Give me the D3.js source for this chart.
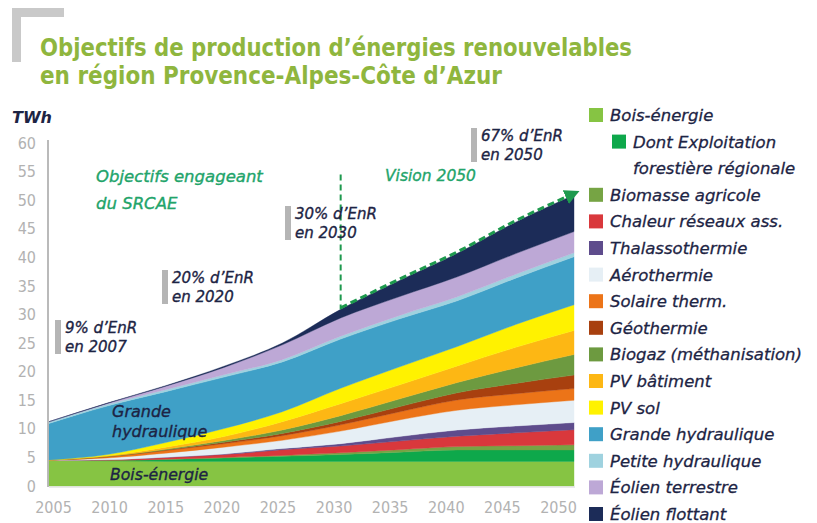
<!DOCTYPE html>
<html>
<head>
<meta charset="utf-8">
<script src="https://cdn.jsdelivr.net/npm/d3@7"></script>
<style>
  body { margin: 0; background: #fff; }
  svg { display: block; }
</style>
</head>
<body>
<svg id="chart" width="817" height="523"></svg>
<script>
// Renewable energy production targets, TWh per year (stacked, bottom to top)
const years = [2005, 2010, 2015, 2020, 2025, 2030, 2035, 2040, 2045, 2050];

const boisEnergie        = [4.5, 4.4, 4.3, 4.3, 4.3, 4.3, 4.3, 4.3, 4.3, 4.3];
const exploitForestiere  = [0,   0.1, 0.35, 0.6, 0.9, 1.2, 1.6, 2.0, 2.0, 2.0];
const biomasseAgricole   = [0,   0,   0.05, 0.1, 0.15, 0.3, 0.45, 0.6, 0.75, 0.9];
const chaleurReseaux     = [0,   0.1, 0.3, 0.5, 1.0, 1.2, 1.5, 1.8, 2.25, 2.65];
const thalassothermie    = [0,   0,   0.05, 0.1, 0.2, 0.4, 0.8, 1.1, 1.2, 1.25];
const aerothermie        = [0,   0.3, 0.7, 1.2, 1.45, 2.2, 2.9, 3.45, 3.7, 3.9];
const solaireThermique   = [0.05, 0.2, 0.45, 0.6, 0.8, 1.1, 1.4, 1.8, 1.95, 2.05];
const geothermie         = [0,   0.05, 0.1, 0.25, 0.4, 0.6, 0.9, 1.25, 1.8, 2.35];
const biogaz             = [0,   0.05, 0.15, 0.3, 0.6, 1.0, 1.35, 1.8, 2.7, 3.6];
const pvBatiment         = [0,   0.1, 0.35, 0.7, 1.45, 2.1, 2.45, 2.9, 3.6, 4.2];
const pvSol              = [0,   0.2, 0.8, 1.4, 1.75, 2.7, 3.15, 3.4, 4.0, 4.5];
const grandeHydraulique  = [6.4, 8.5, 8.9, 9.0, 8.7, 8.6, 8.4, 8.0, 8.1, 8.4];
const petiteHydraulique  = [0.3, 0.3, 0.35, 0.4, 0.4, 0.5, 0.6, 0.7, 0.7, 0.7];
const eolienTerrestre    = [0,   0.15, 0.6, 1.3, 2.6, 3.2, 3.3, 3.5, 3.6, 3.7];
const eolienFlottant     = [0,   0.05, 0.1, 0.2, 0.3, 1.5, 2.8, 4.1, 5.5, 6.4];

const yTicks = [0, 5, 10, 15, 20, 25, 30, 35, 40, 45, 50, 55, 60];
const xTickLabels = [2005, 2010, 2015, 2020, 2025, 2030, 2035, 2040, 2045, 2050];

// Milestone shares of renewables in final consumption
const milestones = [
  { lines: ["9% d\u2019EnR", "en 2007"],  x: 55,  y: 320 },
  { lines: ["20% d\u2019EnR", "en 2020"], x: 162, y: 270 },
  { lines: ["30% d\u2019EnR", "en 2030"], x: 285, y: 206 },
  { lines: ["67% d\u2019EnR", "en 2050"], x: 471, y: 128 }
];

const series = [
  { key: "boisEnergie",       values: boisEnergie,       color: "#86c443", label: ["Bois-énergie"] },
  { key: "exploitForestiere", values: exploitForestiere, color: "#0ea84b", label: ["Dont Exploitation", "forestière régionale"], indent: true },
  { key: "biomasseAgricole",  values: biomasseAgricole,  color: "#76a444", label: ["Biomasse agricole"] },
  { key: "chaleurReseaux",    values: chaleurReseaux,    color: "#d9383c", label: ["Chaleur réseaux ass."] },
  { key: "thalassothermie",   values: thalassothermie,   color: "#5e4c8c", label: ["Thalassothermie"] },
  { key: "aerothermie",       values: aerothermie,       color: "#e6eff5", label: ["Aérothermie"] },
  { key: "solaireThermique",  values: solaireThermique,  color: "#ec7418", label: ["Solaire therm."] },
  { key: "geothermie",        values: geothermie,        color: "#a8400f", label: ["Géothermie"] },
  { key: "biogaz",            values: biogaz,            color: "#6d9a40", label: ["Biogaz (méthanisation)"] },
  { key: "pvBatiment",        values: pvBatiment,        color: "#fdb714", label: ["PV bâtiment"] },
  { key: "pvSol",             values: pvSol,             color: "#fff200", label: ["PV sol"] },
  { key: "grandeHydraulique", values: grandeHydraulique, color: "#3fa0c7", label: ["Grande hydraulique"] },
  { key: "petiteHydraulique", values: petiteHydraulique, color: "#9fd2df", label: ["Petite hydraulique"] },
  { key: "eolienTerrestre",   values: eolienTerrestre,   color: "#bda8d6", label: ["Éolien terrestre"] },
  { key: "eolienFlottant",    values: eolienFlottant,    color: "#1c2c58", label: ["Éolien flottant"] }
];

const table = years.map((yr, i) => {
  const row = { year: yr };
  series.forEach(s => { row[s.key] = s.values[i]; });
  return row;
});

const svg = d3.select("#chart");
const navy = "#1d2444";
const green = "#22a46a";
const italicFont = "'DejaVu Sans', sans-serif";
const tickFont = "'DejaVu Sans Condensed', 'DejaVu Sans', sans-serif";

const x = d3.scaleLinear().domain([2005, 2050]).range([49, 574]);
const y = d3.scaleLinear().domain([0, 60]).range([486, 143]);
const xLabels = d3.scalePoint().domain(xTickLabels).range([53, 558]);

// Title block
svg.append("rect").attr("x", 12).attr("y", 8).attr("width", 9).attr("height", 54).attr("fill", "#c9c9c9");
svg.append("rect").attr("x", 12).attr("y", 8).attr("width", 52).attr("height", 9).attr("fill", "#c9c9c9");
const title = svg.append("g")
  .attr("font-family", tickFont).attr("font-weight", "bold").attr("font-size", 24).attr("fill", "#8fb63e");
title.append("text").attr("x", 40).attr("y", 56)
  .attr("textLength", 592).attr("lengthAdjust", "spacingAndGlyphs")
  .text("Objectifs de production d\u2019énergies renouvelables");
title.append("text").attr("x", 40).attr("y", 84)
  .attr("textLength", 462).attr("lengthAdjust", "spacingAndGlyphs")
  .text("en région Provence-Alpes-Côte d\u2019Azur");

// Stacked areas
const stack = d3.stack().keys(series.map(s => s.key));
const layers = stack(table);
const area = d3.area()
  .x(d => x(d.data.year))
  .y0(d => y(d[0]))
  .y1(d => y(d[1]))
  .curve(d3.curveMonotoneX);

svg.append("g").selectAll("path")
  .data(layers)
  .join("path")
  .attr("d", area)
  .attr("fill", (d, i) => series[i].color)
  .attr("stroke", (d, i) => series[i].color)
  .attr("stroke-width", 0.4);

// Axes
const yAxis = svg.append("g").attr("transform", "translate(48,0)")
  .call(d3.axisLeft(y).tickValues(yTicks).tickSize(0).tickPadding(12));
yAxis.select(".domain").attr("stroke", "#a3a3a3").attr("stroke-width", 1.5)
  .attr("d", `M0,${y(0) + 1}V${y(60) - 3}`);
yAxis.selectAll("text").attr("font-family", tickFont).attr("font-size", 16).attr("fill", "#b2b2b2");

svg.append("line")
  .attr("x1", x(2005)).attr("x2", x(2050) + 1)
  .attr("y1", y(0) + 1).attr("y2", y(0) + 1)
  .attr("stroke", "#d5d5d5").attr("stroke-width", 1.2);

const xAxis = svg.append("g").attr("transform", `translate(0,${y(0)})`)
  .call(d3.axisBottom(xLabels).tickSize(0).tickPadding(16));
xAxis.select(".domain").remove();
xAxis.selectAll("text").attr("font-family", tickFont).attr("font-size", 16).attr("fill", "#b2b2b2");

svg.append("text").attr("x", 12).attr("y", 123)
  .attr("font-family", italicFont).attr("font-style", "italic").attr("font-weight", "bold")
  .attr("font-size", 16).attr("fill", navy).text("TWh");

// Policy horizon: dashed marker at 2030, then the 2050 vision along the stack top
const topLayer = layers[layers.length - 1];
const totalAt = yr => topLayer.find(d => d.data.year === yr)[1];
svg.append("defs").append("marker")
  .attr("id", "arrow").attr("viewBox", "0 0 10 10").attr("refX", 6).attr("refY", 5)
  .attr("markerWidth", 5).attr("markerHeight", 5).attr("orient", "auto")
  .append("path").attr("d", "M0,0L10,5L0,10Z").attr("fill", "#1e9a4e");

svg.append("line")
  .attr("x1", x(2030)).attr("x2", x(2030))
  .attr("y1", y(54.5)).attr("y2", y(totalAt(2030)))
  .attr("stroke", "#1e9a4e").attr("stroke-width", 2).attr("stroke-dasharray", "6,4");

const visionLine = d3.line()
  .x(d => x(d.data.year))
  .y(d => y(d[1]) - 1.5)
  .curve(d3.curveMonotoneX);
svg.append("path")
  .datum(topLayer.filter(d => d.data.year >= 2030))
  .attr("d", visionLine)
  .attr("fill", "none").attr("stroke", "#1e9a4e").attr("stroke-width", 3)
  .attr("stroke-dasharray", "7,4")
  .attr("marker-end", "url(#arrow)");

// Text annotations
const note = svg.append("g").attr("font-family", italicFont).attr("font-style", "italic")
  .attr("stroke-width", 0.35);
note.append("text").attr("x", 96).attr("y", 182).attr("font-size", 16.5)
  .attr("fill", green).attr("stroke", green).text("Objectifs engageant");
note.append("text").attr("x", 96).attr("y", 209).attr("font-size", 16.5)
  .attr("fill", green).attr("stroke", green).text("du SRCAE");
note.append("text").attr("x", 385).attr("y", 181).attr("font-size", 15.5)
  .attr("fill", green).attr("stroke", green).text("Vision 2050");

milestones.forEach(m => {
  svg.append("rect").attr("x", m.x).attr("y", m.y).attr("width", 6).attr("height", 34).attr("fill", "#b5b5b5");
  m.lines.forEach((ln, j) => {
    note.append("text").attr("x", m.x + 10).attr("y", m.y + 13 + j * 19)
      .attr("font-size", 15).attr("fill", navy).attr("stroke", navy).text(ln);
  });
});

note.append("text").attr("x", 112).attr("y", 417).attr("font-size", 16)
  .attr("fill", navy).attr("stroke", navy).text("Grande");
note.append("text").attr("x", 112).attr("y", 437).attr("font-size", 16)
  .attr("fill", navy).attr("stroke", navy).text("hydraulique");
note.append("text").attr("x", 110).attr("y", 480).attr("font-size", 15.7)
  .attr("fill", navy).attr("stroke", navy).text("Bois-énergie");

// Legend
const legend = svg.append("g").attr("font-family", italicFont).attr("font-style", "italic")
  .attr("font-size", 16.5).attr("fill", navy).attr("stroke", navy).attr("stroke-width", 0.3);
let row = 0;
series.forEach(s => {
  const cy = 115 + row * 26.6;
  const sx = s.indent ? 612 : 589;
  legend.append("rect").attr("x", sx).attr("y", cy - 7).attr("width", 14).attr("height", 14)
    .attr("fill", s.color).attr("stroke", "none");
  s.label.forEach((ln, j) => {
    legend.append("text").attr("x", sx + 21).attr("y", cy + 6 + j * 26.6).text(ln);
  });
  row += s.label.length;
});
</script>
</body>
</html>
